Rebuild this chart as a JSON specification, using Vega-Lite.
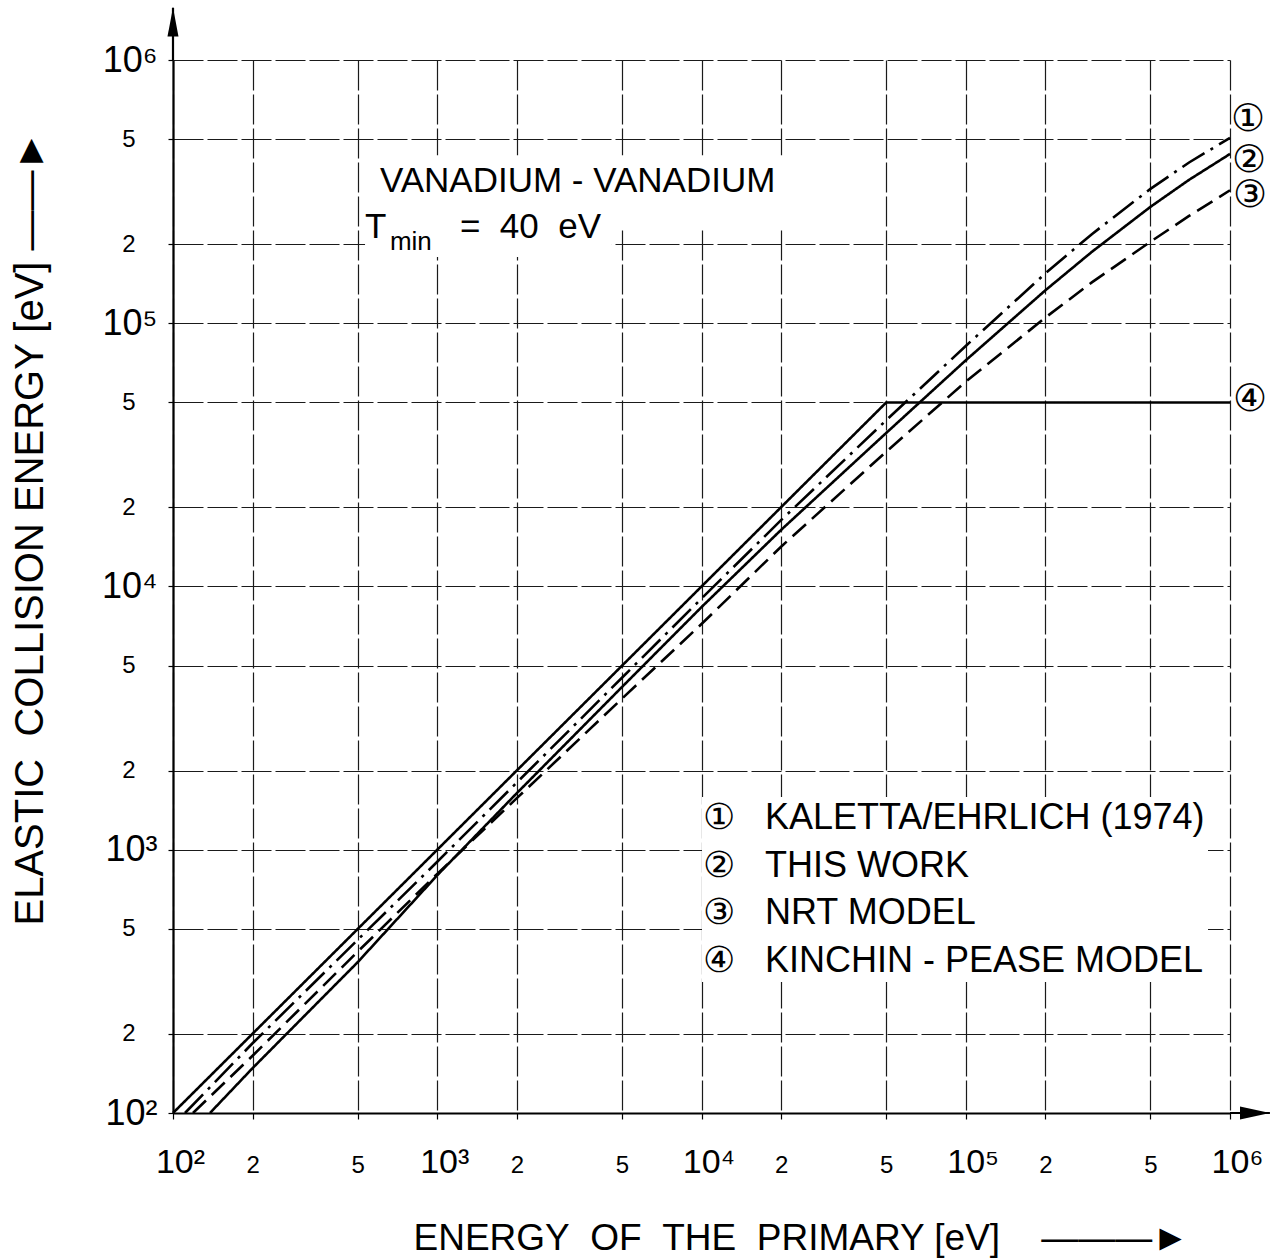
{
  "$schema": "https://vega.github.io/schema/vega-lite/v6.json",
  "width": 1057,
  "height": 1053,
  "autosize": "none",
  "padding": {"left": 173, "top": 60, "right": 52, "bottom": 145},
  "background": "white",
  "config": {"view": {"stroke": null}, "font": "Liberation Sans"},
  "datasets": {
    "curves": [
      {"model": "KALETTA/EHRLICH (1974)", "E": 111, "T": 100},
      {"model": "KALETTA/EHRLICH (1974)", "E": 200, "T": 184},
      {"model": "KALETTA/EHRLICH (1974)", "E": 500, "T": 455},
      {"model": "KALETTA/EHRLICH (1974)", "E": 1000, "T": 900},
      {"model": "KALETTA/EHRLICH (1974)", "E": 2000, "T": 1800},
      {"model": "KALETTA/EHRLICH (1974)", "E": 5000, "T": 4500},
      {"model": "KALETTA/EHRLICH (1974)", "E": 10000, "T": 9000},
      {"model": "KALETTA/EHRLICH (1974)", "E": 20000, "T": 17860},
      {"model": "KALETTA/EHRLICH (1974)", "E": 50000, "T": 42800},
      {"model": "KALETTA/EHRLICH (1974)", "E": 100000, "T": 82000},
      {"model": "KALETTA/EHRLICH (1974)", "E": 200000, "T": 154600},
      {"model": "KALETTA/EHRLICH (1974)", "E": 300000, "T": 218000},
      {"model": "KALETTA/EHRLICH (1974)", "E": 500000, "T": 324000},
      {"model": "KALETTA/EHRLICH (1974)", "E": 700000, "T": 408000},
      {"model": "KALETTA/EHRLICH (1974)", "E": 1000000, "T": 506000},
      {"model": "THIS WORK", "E": 138, "T": 100},
      {"model": "THIS WORK", "E": 200, "T": 148},
      {"model": "THIS WORK", "E": 500, "T": 374},
      {"model": "THIS WORK", "E": 1000, "T": 800},
      {"model": "THIS WORK", "E": 2000, "T": 1640},
      {"model": "THIS WORK", "E": 5000, "T": 4150},
      {"model": "THIS WORK", "E": 10000, "T": 8350},
      {"model": "THIS WORK", "E": 20000, "T": 16400},
      {"model": "THIS WORK", "E": 50000, "T": 38300},
      {"model": "THIS WORK", "E": 100000, "T": 72300},
      {"model": "THIS WORK", "E": 200000, "T": 133300},
      {"model": "THIS WORK", "E": 300000, "T": 186700},
      {"model": "THIS WORK", "E": 500000, "T": 276800},
      {"model": "THIS WORK", "E": 700000, "T": 350600},
      {"model": "THIS WORK", "E": 1000000, "T": 439700},
      {"model": "NRT MODEL", "E": 119, "T": 100},
      {"model": "NRT MODEL", "E": 200, "T": 165},
      {"model": "NRT MODEL", "E": 500, "T": 410},
      {"model": "NRT MODEL", "E": 1000, "T": 810},
      {"model": "NRT MODEL", "E": 2000, "T": 1570},
      {"model": "NRT MODEL", "E": 5000, "T": 3750},
      {"model": "NRT MODEL", "E": 10000, "T": 7200},
      {"model": "NRT MODEL", "E": 20000, "T": 14160},
      {"model": "NRT MODEL", "E": 50000, "T": 32500},
      {"model": "NRT MODEL", "E": 100000, "T": 60000},
      {"model": "NRT MODEL", "E": 200000, "T": 105000},
      {"model": "NRT MODEL", "E": 300000, "T": 143000},
      {"model": "NRT MODEL", "E": 500000, "T": 204000},
      {"model": "NRT MODEL", "E": 700000, "T": 255700},
      {"model": "NRT MODEL", "E": 1000000, "T": 320000},
      {"model": "KINCHIN-PEASE MODEL", "E": 100, "T": 100},
      {"model": "KINCHIN-PEASE MODEL", "E": 50000, "T": 50000},
      {"model": "KINCHIN-PEASE MODEL", "E": 1000000, "T": 50000}
    ]
  },
  "layer": [
    {
      "data": {"values": [{}]},
      "mark": {"type": "rect", "fill": "white"},
      "encoding": {
        "x": {"datum": 533, "type": "quantitative"},
        "x2": {"datum": 21600},
        "y": {"datum": 226000, "type": "quantitative"},
        "y2": {"datum": 435000}
      }
    },
    {
      "data": {"values": [{}]},
      "mark": {"type": "rect", "fill": "white"},
      "encoding": {
        "x": {"datum": 533, "type": "quantitative"},
        "x2": {"datum": 4580},
        "y": {"datum": 178500, "type": "quantitative"},
        "y2": {"datum": 226000}
      }
    },
    {
      "data": {"name": "curves"},
      "mark": {"type": "line", "color": "black", "strokeWidth": 2.6, "strokeCap": "butt"},
      "encoding": {
        "x": {
          "field": "E",
          "type": "quantitative",
          "scale": {"type": "log", "domain": [100, 1000000], "nice": false},
          "axis": {
            "values": [100, 200, 500, 1000, 2000, 5000, 10000, 20000, 50000, 100000, 200000, 500000, 1000000],
            "labelExpr": "datum.value == 100 ? '10²' : datum.value == 1000 ? '10³' : datum.value == 10000 ? '10⁴' : datum.value == 100000 ? '10⁵' : datum.value == 1000000 ? '10⁶' : substring(format(datum.value, '.0e'), 0, 1)",
            "labelFontSize": {"condition": {"test": "indexof([100, 1000, 10000, 100000, 1000000], datum.value) >= 0", "value": 34}, "value": 24},
            "labelOffset": {"condition": {"test": "indexof([100, 1000, 10000, 100000, 1000000], datum.value) >= 0", "value": 7}, "value": 0},
            "labelBaseline": "alphabetic",
            "labelPadding": 53,
            "labelColor": "black",
            "labelFlush": false,
            "labelOverlap": false,
            "grid": true,
            "gridColor": "#1a1a1a",
            "gridWidth": 1.2,
            "gridDash": [30, 4],
            "domainColor": "black",
            "domainWidth": 2.2,
            "tickSize": 6,
            "tickColor": "black",
            "tickWidth": 1.2,
            "title": "ENERGY\u00a0\u00a0OF\u00a0\u00a0THE\u00a0\u00a0PRIMARY [eV]\u00a0\u00a0\u00a0\u00a0———►",
            "titleFontSize": 37,
            "titleFontWeight": "normal",
            "titleColor": "black",
            "titleAnchor": "start",
            "titleAlign": "left",
            "titleBaseline": "alphabetic",
            "titleX": 240,
            "titleY": 136
          }
        },
        "y": {
          "field": "T",
          "type": "quantitative",
          "scale": {"type": "log", "domain": [100, 1000000], "nice": false},
          "axis": {
            "values": [100, 200, 500, 1000, 2000, 5000, 10000, 20000, 50000, 100000, 200000, 500000, 1000000],
            "labelExpr": "datum.value == 100 ? '10²' : datum.value == 1000 ? '10³' : datum.value == 10000 ? '10⁴' : datum.value == 100000 ? '10⁵' : datum.value == 1000000 ? '10⁶' : substring(format(datum.value, '.0e'), 0, 1)",
            "labelFontSize": {"condition": {"test": "indexof([100, 1000, 10000, 100000, 1000000], datum.value) >= 0", "value": 36}, "value": 24},
            "labelPadding": {"condition": {"test": "indexof([100, 1000, 10000, 100000, 1000000], datum.value) >= 0", "value": 11}, "value": 33},
            "labelBaseline": "middle",
            "labelColor": "black",
            "labelFlush": false,
            "labelOverlap": false,
            "grid": true,
            "gridColor": "#1a1a1a",
            "gridWidth": 1.2,
            "gridDash": [30, 4],
            "domainColor": "black",
            "domainWidth": 2.2,
            "tickSize": 5,
            "tickColor": "black",
            "tickWidth": 1.2,
            "title": "ELASTIC\u00a0\u00a0COLLISION ENERGY [eV]\u00a0——►",
            "titleFontSize": 40,
            "titleFontWeight": "normal",
            "titleColor": "black",
            "titleAngle": 270,
            "titleAnchor": "start",
            "titleAlign": "left",
            "titleBaseline": "alphabetic",
            "titleX": -131,
            "titleY": 865
          }
        },
        "strokeDash": {
          "field": "model",
          "type": "nominal",
          "scale": {
            "domain": ["KALETTA/EHRLICH (1974)", "THIS WORK", "NRT MODEL", "KINCHIN-PEASE MODEL"],
            "range": [[26, 7, 3, 7], [1, 0], [18, 8], [1, 0]]
          },
          "legend": {
            "orient": "none",
            "legendX": 529,
            "legendY": 737,
            "direction": "vertical",
            "title": null,
            "labelExpr": "{'KALETTA/EHRLICH (1974)': '①\u00a0\u00a0\u00a0KALETTA/EHRLICH (1974)', 'THIS WORK': '②\u00a0\u00a0\u00a0THIS WORK', 'NRT MODEL': '③\u00a0\u00a0\u00a0NRT MODEL', 'KINCHIN-PEASE MODEL': '④\u00a0\u00a0\u00a0KINCHIN - PEASE MODEL'}[datum.label]",
            "labelFontSize": 36,
            "labelColor": "black",
            "labelLimit": 0,
            "labelOffset": -38,
            "symbolSize": 0,
            "symbolStrokeWidth": 0,
            "symbolOpacity": 0,
            "fillColor": "white",
            "padding": 3,
            "rowPadding": 11.5
          }
        }
      }
    },
    {
      "data": {"values": [{}]},
      "mark": {"type": "rule", "color": "black", "strokeWidth": 2.2},
      "encoding": {
        "x": {"datum": 1000000, "type": "quantitative"},
        "x2": {"datum": 1416000},
        "y": {"datum": 100, "type": "quantitative"}
      }
    },
    {
      "data": {"values": [{}]},
      "mark": {"type": "rule", "color": "black", "strokeWidth": 2.2},
      "encoding": {
        "x": {"datum": 100, "type": "quantitative"},
        "y": {"datum": 1000000, "type": "quantitative"},
        "y2": {"datum": 1580000}
      }
    },
    {
      "data": {"values": [{}]},
      "mark": {"type": "point", "filled": true, "color": "black", "opacity": 1, "size": 900, "shape": "M-1,-0.43L1,0L-1,0.43Z"},
      "encoding": {
        "x": {"datum": 1243400, "type": "quantitative"},
        "y": {"datum": 100, "type": "quantitative"}
      }
    },
    {
      "data": {"values": [{}]},
      "mark": {"type": "point", "filled": true, "color": "black", "opacity": 1, "size": 841, "shape": "M-0.38,1L0,-1L0.38,1Z"},
      "encoding": {
        "x": {"datum": 100, "type": "quantitative"},
        "y": {"datum": 1395000, "type": "quantitative"}
      }
    },
    {
      "data": {"values": [{}]},
      "mark": {"type": "text", "text": "VANADIUM - VANADIUM", "fontSize": 35, "align": "left", "baseline": "alphabetic", "color": "black"},
      "encoding": {
        "x": {"datum": 607, "type": "quantitative"},
        "y": {"datum": 315200, "type": "quantitative"}
      }
    },
    {
      "data": {"values": [{}]},
      "mark": {"type": "text", "text": "T", "fontSize": 35, "align": "left", "baseline": "alphabetic", "color": "black"},
      "encoding": {
        "x": {"datum": 533, "type": "quantitative"},
        "y": {"datum": 210800, "type": "quantitative"}
      }
    },
    {
      "data": {"values": [{}]},
      "mark": {"type": "text", "text": "min", "fontSize": 26, "align": "left", "baseline": "alphabetic", "color": "black"},
      "encoding": {
        "x": {"datum": 662, "type": "quantitative"},
        "y": {"datum": 189800, "type": "quantitative"}
      }
    },
    {
      "data": {"values": [{}]},
      "mark": {"type": "text", "text": "=\u00a0\u00a040\u00a0\u00a0eV", "fontSize": 35, "align": "left", "baseline": "alphabetic", "color": "black"},
      "encoding": {
        "x": {"datum": 1219, "type": "quantitative"},
        "y": {"datum": 210800, "type": "quantitative"}
      }
    },
    {
      "data": {"name": "curves"},
      "transform": [{"filter": "datum.E == 1000000 && datum.model == 'KALETTA/EHRLICH (1974)'"}],
      "mark": {"type": "text", "text": "①", "font": "DejaVu Sans", "fontSize": 38, "dx": 18, "dy": -18, "align": "center", "baseline": "middle", "color": "black"},
      "encoding": {"x": {"field": "E", "type": "quantitative"}, "y": {"field": "T", "type": "quantitative"}}
    },
    {
      "data": {"name": "curves"},
      "transform": [{"filter": "datum.E == 1000000 && datum.model == 'THIS WORK'"}],
      "mark": {"type": "text", "text": "②", "font": "DejaVu Sans", "fontSize": 38, "dx": 19, "dy": 7, "align": "center", "baseline": "middle", "color": "black"},
      "encoding": {"x": {"field": "E", "type": "quantitative"}, "y": {"field": "T", "type": "quantitative"}}
    },
    {
      "data": {"name": "curves"},
      "transform": [{"filter": "datum.E == 1000000 && datum.model == 'NRT MODEL'"}],
      "mark": {"type": "text", "text": "③", "font": "DejaVu Sans", "fontSize": 38, "dx": 20, "dy": 6, "align": "center", "baseline": "middle", "color": "black"},
      "encoding": {"x": {"field": "E", "type": "quantitative"}, "y": {"field": "T", "type": "quantitative"}}
    },
    {
      "data": {"name": "curves"},
      "transform": [{"filter": "datum.E == 1000000 && datum.model == 'KINCHIN-PEASE MODEL'"}],
      "mark": {"type": "text", "text": "④", "font": "DejaVu Sans", "fontSize": 38, "dx": 20, "dy": -2, "align": "center", "baseline": "middle", "color": "black"},
      "encoding": {"x": {"field": "E", "type": "quantitative"}, "y": {"field": "T", "type": "quantitative"}}
    }
  ]
}
